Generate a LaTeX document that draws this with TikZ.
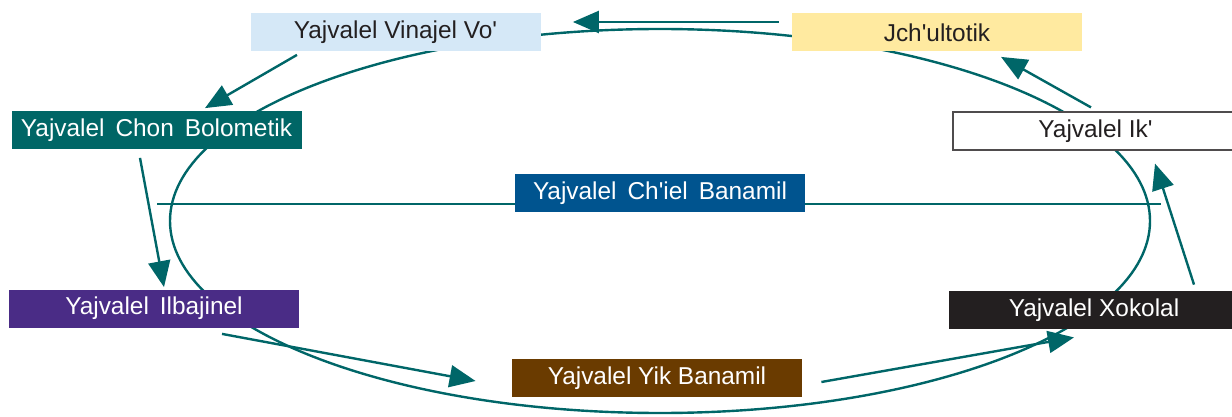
\documentclass[tikz,border=0pt]{standalone}
\usepackage{fontspec}
\setmainfont{Liberation Sans}
\usetikzlibrary{arrows.meta, calc, backgrounds}

\definecolor{cycleteal}{RGB}{0,102,104}
\definecolor{textdark}{RGB}{35,31,32}
\definecolor{vinajelfill}{RGB}{213,232,247}
\definecolor{jchulfill}{RGB}{255,234,160}
\definecolor{chonfill}{RGB}{0,102,102}
\definecolor{chielfill}{RGB}{0,84,143}
\definecolor{ilbafill}{RGB}{74,44,134}
\definecolor{xokofill}{RGB}{35,31,32}
\definecolor{yikfill}{RGB}{106,59,0}

\newcommand{\wsp}{\hspace{0.45em}}

\begin{document}
\begin{tikzpicture}[x=0.5pt, y=-0.5pt,
    box/.style={minimum width=145pt, minimum height=19pt, inner sep=0pt,
        font=\fontsize{12.2pt}{14pt}\selectfont},
    lightbox/.style={box, text=textdark},
    darkbox/.style={box, text=white},
    arr/.style={-{Triangle[length=13pt, width=11pt]}, line width=1.2pt, cycleteal}]
    \useasboundingbox (0,0) rectangle (1232,417);

    % Cycle behind the boxes
    \draw[line width=1.2pt, cycleteal] (660,221) ellipse [x radius=245pt, y radius=96pt];

    % Boxes
    \node[lightbox, fill=vinajelfill] (vinajel) at (395.5,32.5) {Yajvalel Vinajel Vo\textquotesingle};
    \node[lightbox, fill=jchulfill] (jchul) at (937,32.5) {Jch\textquotesingle ultotik};
    \node[darkbox, fill=chonfill] (chon) at (156.5,130.5) {Yajvalel\wsp Chon\wsp Bolometik};
    \node[lightbox, fill=white, draw=textdark!80, line width=0.6pt, minimum width=142.5pt] (ik) at (1095.5,131) {Yajvalel Ik\textquotesingle};
    \node[darkbox, fill=chielfill] (chiel) at (660,193) {Yajvalel\wsp Ch\textquotesingle iel\wsp Banamil};
    \node[darkbox, fill=ilbafill] (ilba) at (154,308.5) {Yajvalel\wsp Ilbajinel};
    \node[darkbox, fill=xokofill] (xoko) at (1094,310) {Yajvalel Xokolal};
    \node[darkbox, fill=yikfill] (yik) at (657,378) {Yajvalel Yik Banamil};

    % Line across the middle
    \begin{scope}[on background layer]
        \draw[line width=1.2pt, cycleteal] ($(chiel.center)+(-503,11)$) -- ($(chiel.center)+(501,11)$);
    \end{scope}

    % Arrows round the cycle
    \draw[arr] ($(jchul.west)+(-13,-10.5)$) -- ($(vinajel.east)+(32,-10.5)$);
    \draw[arr] ($(vinajel.south)+(-98.5,3)$) -- ($(chon.north)+(48.5,-3)$);
    \draw[arr] ($(chon.south)+(-16.5,8)$) -- ($(ilba.north)+(10,-2)$);
    \draw[arr] ($(ilba.south)+(68,6)$) -- ($(yik.west)+(-36,3)$);
    \draw[arr] ($(yik.east)+(19,4)$) -- ($(xoko.south)+(-20,8)$);
    \draw[arr] ($(xoko.north)+(100,-6)$) -- ($(ik.south)+(59.5,13)$);
    \draw[arr] ($(ik.north)+(-4.5,-4)$) -- ($(jchul.south)+(64,5)$);

\end{tikzpicture}
\end{document}
